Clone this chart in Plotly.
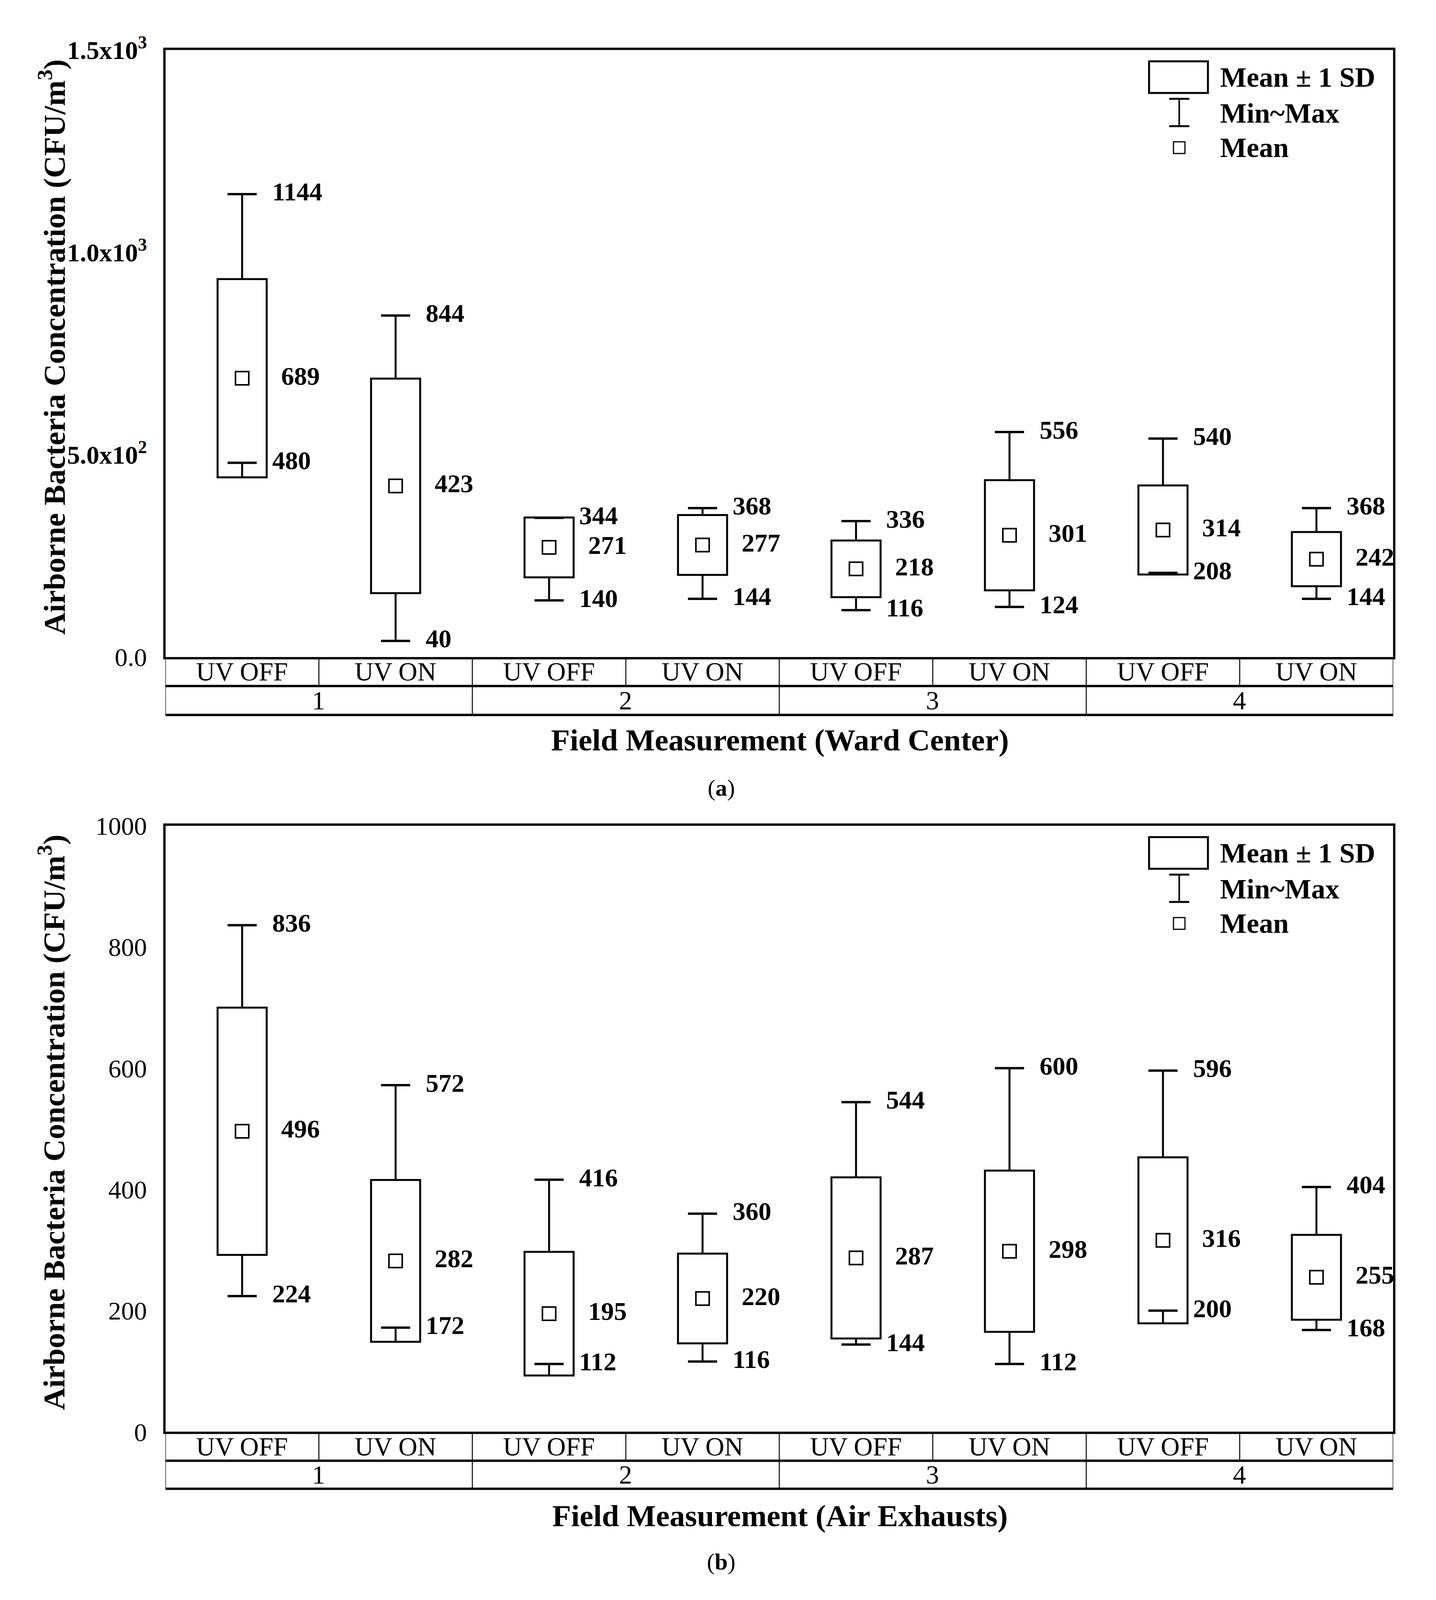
import plotly.graph_objects as go

FONT = "Liberation Serif"

# ---------------- data ----------------
categories = ["UV OFF", "UV ON", "UV OFF", "UV ON", "UV OFF", "UV ON", "UV OFF", "UV ON"]
groups = ["1", "2", "3", "4"]

# (a) Ward Center
mean_a = [689, 423, 271, 277, 218, 301, 314, 242]
sd_a = [245, 265, 74, 74, 70, 136, 110, 67]
min_a = [480, 40, 140, 144, 116, 124, 208, 144]
max_a = [1144, 844, 344, 368, 336, 556, 540, 368]

# (b) Air Exhausts
mean_b = [496, 282, 195, 220, 287, 298, 316, 255]
sd_b = [204, 133.5, 102, 74, 133, 133, 137, 70]
min_b = [224, 172, 112, 116, 144, 112, 200, 168]
max_b = [836, 572, 416, 360, 544, 600, 596, 404]

yticks_a = [0, 500, 1000, 1500]
yticktext_a = ["0.0", "<b>5.0x10<sup>2</sup></b>", "<b>1.0x10<sup>3</sup></b>", "<b>1.5x10<sup>3</sup></b>"]
yticks_b = [0, 200, 400, 600, 800, 1000]
yticktext_b = ["0", "200", "400", "600", "800", "1000"]

ytitle = "Airborne Bacteria Concentration (CFU/m<sup>3</sup>)"
xtitle_a = "Field Measurement (Ward Center)"
xtitle_b = "Field Measurement (Air Exhausts)"
legend_labels = ["Mean \u00b1 1 SD", "Min~Max", "Mean"]


def PX(d):
    return d / 1000.0


def PY(d):
    return 1 - d / 1570.1


panels = [
    dict(xa="x", ya="y", xk="xaxis", yk="yaxis", mean=mean_a, sd=sd_a, mn=min_a, mx=max_a,
         top=29, zero=637, r1=666, r2=695, xt=720, cap=768, rng=[0, 1500],
         tv=yticks_a, tt=yticktext_a, xtitle=xtitle_a, caption="(<b>a</b>)"),
    dict(xa="x2", ya="y2", xk="xaxis2", yk="yaxis2", mean=mean_b, sd=sd_b, mn=min_b, mx=max_b,
         top=806, zero=1413, r1=1442, r2=1470, xt=1497, cap=1543, rng=[0, 1000],
         tv=yticks_b, tt=yticktext_b, xtitle=xtitle_b, caption="(<b>b</b>)"),
]

fig = go.Figure()
shapes = []
annotations = []

BOXW = 0.32
CAPH = 0.095
LW = 5

for p in panels:
    n = len(p["mean"])
    centers = [i + 0.5 for i in range(n)]
    tops = [m + s for m, s in zip(p["mean"], p["sd"])]
    bots = [m - s for m, s in zip(p["mean"], p["sd"])]

    # boxes: mean +- 1 SD
    fig.add_trace(go.Bar(x=centers, y=[2 * s for s in p["sd"]], base=bots, width=BOXW,
                         marker=dict(color="white", line=dict(color="black", width=LW)),
                         xaxis=p["xa"], yaxis=p["ya"], hoverinfo="skip"))
    # whisker stems
    sx, sy = [], []
    for c, t, b, lo, hi in zip(centers, tops, bots, p["mn"], p["mx"]):
        sx += [c, c, None, c, c, None]
        sy += [t, hi, None, b, lo, None]
    fig.add_trace(go.Scatter(x=sx, y=sy, mode="lines", line=dict(color="black", width=LW),
                             xaxis=p["xa"], yaxis=p["ya"], hoverinfo="skip"))
    # caps
    cx, cy = [], []
    for c, lo, hi in zip(centers, p["mn"], p["mx"]):
        cx += [c - CAPH, c + CAPH, None, c - CAPH, c + CAPH, None]
        cy += [hi, hi, None, lo, lo, None]
    fig.add_trace(go.Scatter(x=cx, y=cy, mode="lines", line=dict(color="black", width=6),
                             xaxis=p["xa"], yaxis=p["ya"], hoverinfo="skip"))
    # mean markers
    fig.add_trace(go.Scatter(x=centers, y=p["mean"], mode="markers",
                             marker=dict(symbol="square-open", size=34, color="black",
                                         line=dict(width=4, color="black")),
                             xaxis=p["xa"], yaxis=p["ya"], hoverinfo="skip"))

    # value labels
    for c, m, lo, hi in zip(centers, p["mean"], p["mn"], p["mx"]):
        for val, off in ((hi, 0.19), (lo, 0.19), (m, 0.25)):
            annotations.append(dict(x=c + off, y=val, xref=p["xa"], yref=p["ya"],
                                    text="<b>%d</b>" % val, showarrow=False,
                                    xanchor="left", yanchor="middle", yshift=6,
                                    font=dict(family=FONT, size=66, color="black")))

    # category table under the axis
    y0 = PY(p["zero"])
    y1 = PY(p["r1"])
    y2 = PY(p["r2"])
    for yy in (y1, y2):
        shapes.append(dict(type="line", xref=p["xa"], yref="paper", x0=0, x1=n, y0=yy, y1=yy,
                           line=dict(color="black", width=6)))
    for k in range(n + 1):
        shapes.append(dict(type="line", xref=p["xa"], yref="paper", x0=k, x1=k, y0=y0, y1=y1,
                           line=dict(color="black", width=2.5)))
    ng = len(groups)
    per = n // ng
    for g in range(ng + 1):
        shapes.append(dict(type="line", xref=p["xa"], yref="paper", x0=g * per, x1=g * per,
                           y0=y1, y1=y2, line=dict(color="black", width=2.5)))
    for c, lab in zip(centers, categories):
        annotations.append(dict(x=c, y=(y0 + y1) / 2, xref=p["xa"], yref="paper", text=lab,
                                showarrow=False, xanchor="center", yanchor="middle",
                                font=dict(family=FONT, size=67, color="black")))
    for g, lab in enumerate(groups):
        annotations.append(dict(x=g * per + per / 2, y=(y1 + y2) / 2, xref=p["xa"], yref="paper",
                                text=lab, showarrow=False, xanchor="center", yanchor="middle",
                                font=dict(family=FONT, size=67, color="black")))

    # titles and caption
    annotations.append(dict(x=PX(34), y=(PY(p["top"]) + PY(p["zero"])) / 2 + 0.004,
                            xref="paper", yref="paper",
                            text="<b>%s</b>" % ytitle, textangle=-90, showarrow=False,
                            xanchor="center", yanchor="middle",
                            font=dict(family=FONT, size=79, color="black")))
    annotations.append(dict(x=PX(541), y=PY(p["xt"]), xref="paper", yref="paper",
                            text="<b>%s</b>" % p["xtitle"], showarrow=False,
                            xanchor="center", yanchor="middle",
                            font=dict(family=FONT, size=79, color="black")))
    annotations.append(dict(x=PX(500), y=PY(p["cap"]), xref="paper", yref="paper",
                            text=p["caption"], showarrow=False, xanchor="center", yanchor="middle",
                            font=dict(family=FONT, size=60, color="black")))

    # legend drawn in pixels from the top of the plot area
    ydom = p["ya"] + " domain"
    shapes.append(dict(type="rect", xref="paper", yref=ydom, ysizemode="pixel", yanchor=1,
                       x0=PX(798), x1=PX(839), y0=-29, y1=-110,
                       line=dict(color="black", width=5), fillcolor="white"))
    shapes.append(dict(type="line", xref="paper", yref=ydom, ysizemode="pixel", yanchor=1,
                       x0=PX(819), x1=PX(819), y0=-125, y1=-195,
                       line=dict(color="black", width=4)))
    for yy in (-125, -195):
        shapes.append(dict(type="line", xref="paper", yref=ydom, ysizemode="pixel", yanchor=1,
                           x0=PX(812), x1=PX(826), y0=yy, y1=yy,
                           line=dict(color="black", width=5)))
    shapes.append(dict(type="rect", xref="paper", yref=ydom, ysizemode="pixel", yanchor=1,
                       x0=PX(815), x1=PX(823), y0=-235, y1=-265,
                       line=dict(color="black", width=3), fillcolor="white"))
    for lab, yy in zip(legend_labels, (-70, -162, -250)):
        annotations.append(dict(x=PX(847), y=1, xref="paper", yref=ydom, yshift=yy,
                                text="<b>%s</b>" % lab, showarrow=False,
                                xanchor="left", yanchor="middle",
                                font=dict(family=FONT, size=72, color="black")))

axis_common = dict(showline=True, mirror=True, linewidth=6, linecolor="black",
                   showgrid=False, zeroline=False)

layout = dict(autosize=True, margin=dict(l=0, r=0, t=0, b=0),
              paper_bgcolor="white", plot_bgcolor="white", showlegend=False,
              barmode="overlay", shapes=shapes, annotations=annotations)
for p in panels:
    layout[p["xk"]] = dict(domain=[PX(113), PX(968)], range=[0, 8], showticklabels=False,
                           ticks="", anchor=p["ya"], **axis_common)
    layout[p["yk"]] = dict(domain=[PY(p["zero"]), PY(p["top"])], range=p["rng"],
                           tickvals=p["tv"], ticktext=p["tt"], ticks="",
                           ticklabelstandoff=28, anchor=p["xa"],
                           tickfont=dict(family=FONT, size=66, color="black"), **axis_common)

fig.update_layout(**layout)
fig.write_html("out.html", default_width="100vw", default_height="100vh")
